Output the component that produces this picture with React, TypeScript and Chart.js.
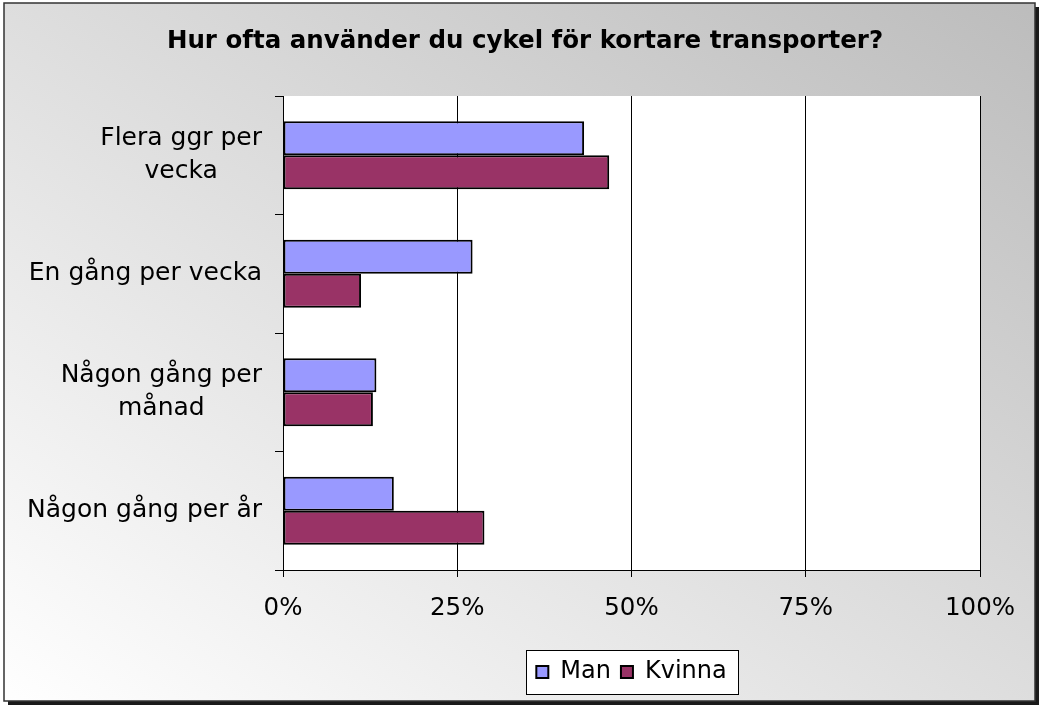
import React, { useEffect, useRef } from "react";
import { Chart, registerables } from "chart.js";

Chart.register(...registerables);

const chartTitle = "Hur ofta använder du cykel för kortare transporter?";
const categories: string[][] = [
  ["Flera ggr per", "vecka"],
  ["En gång per vecka"],
  ["Någon gång per", "månad"],
  ["Någon gång per år"],
];
const seriesNames = ["Man", "Kvinna"];
const manValues = [43.2, 27.2, 13.4, 15.9];
const kvinnaValues = [46.8, 11.2, 12.9, 28.9];
const xTickValues = [0, 25, 50, 75, 100];

const W = 1039;
const H = 706;
const FONT = '"DejaVu Sans", Verdana, sans-serif';

const decorPlugin = {
  id: "decor",
  beforeDraw(chart: any) {
    const ctx = chart.ctx;
    ctx.save();
    // shadow
    ctx.fillStyle = "#1a1a1a";
    ctx.fillRect(8, 7, 1031, 698);
    // gradient background
    const g = ctx.createLinearGradient(191.3, 835.9, 847.7, -129.9);
    g.addColorStop(0, "#ffffff");
    g.addColorStop(1, "#bcbcbc");
    ctx.fillStyle = g;
    ctx.fillRect(4, 3, 1031, 698);
    ctx.strokeStyle = "#333";
    ctx.lineWidth = 1.5;
    ctx.strokeRect(4, 3, 1031, 698);
    // plot area
    const a = chart.chartArea;
    ctx.fillStyle = "#ffffff";
    ctx.fillRect(a.left, a.top, a.right - a.left, a.bottom - a.top);
    // legend box
    const lg = chart.legend;
    if (lg && lg.legendHitBoxes && lg.legendHitBoxes.length) {
      let minL = Infinity;
      let maxR = -Infinity;
      lg.legendHitBoxes.forEach((b: any) => {
        minL = Math.min(minL, b.left);
        maxR = Math.max(maxR, b.left + b.width);
      });
      const x = Math.round(minL - 10) + 0.5;
      const y = Math.round(lg.top) + 0.5;
      const w = Math.round(maxR - minL + 22);
      const h = Math.round(lg.bottom - lg.top);
      ctx.fillStyle = "#ffffff";
      ctx.fillRect(x, y, w, h);
      ctx.strokeStyle = "#000";
      ctx.lineWidth = 1;
      ctx.strokeRect(x, y, w, h);
    }
    ctx.restore();
  },
  afterDraw(chart: any) {
    const ctx = chart.ctx;
    const ys = chart.scales.y;
    const right = chart.chartArea.left - 21;
    ctx.save();
    // title
    ctx.font = "bold 24.5px " + FONT;
    ctx.fillStyle = "#000";
    ctx.textAlign = "center";
    ctx.textBaseline = "middle";
    ctx.fillText(chartTitle, 525, 42);
    // category labels
    ctx.font = "25px " + FONT;
    const lh = 33;
    categories.forEach((lines, i) => {
      const cy = ys.getPixelForValue(i);
      const w = Math.max(...lines.map((l) => ctx.measureText(l).width));
      const cx = right - w / 2;
      lines.forEach((l, j) => {
        ctx.fillText(l, cx, cy + (j - (lines.length - 1) / 2) * lh);
      });
    });
    ctx.restore();
  },
};

export default function App() {
  const ref = useRef<HTMLCanvasElement | null>(null);
  useEffect(() => {
    if (!ref.current) return;
    const chart = new Chart(ref.current, {
      type: "bar",
      data: {
        labels: categories.map((c) => c.join(" ")),
        datasets: [
          {
            label: seriesNames[0],
            data: manValues,
            backgroundColor: "#9999FF",
            borderColor: "#000000",
            borderWidth: 2,
            borderSkipped: false,
            categoryPercentage: 0.575,
            barPercentage: 1,
          },
          {
            label: seriesNames[1],
            data: kvinnaValues,
            backgroundColor: "#993366",
            borderColor: "#000000",
            borderWidth: 2,
            borderSkipped: false,
            categoryPercentage: 0.575,
            barPercentage: 1,
          },
        ],
      },
      options: {
        indexAxis: "y",
        responsive: false,
        animation: false,
        devicePixelRatio: 1,
        layout: { padding: { left: 0, right: 59, top: 96, bottom: 12 } },
        plugins: {
          title: { display: false },
          legend: {
            display: true,
            position: "bottom",
            fullSize: false,
            labels: {
              color: "#000",
              font: { family: FONT, size: 24 },
              boxWidth: 12,
              boxHeight: 12,
              padding: 10,
            },
          },
          tooltip: { enabled: false },
        },
        scales: {
          x: {
            type: "linear",
            min: 0,
            max: 100,
            afterBuildTicks: (scale: any) => {
              scale.ticks = xTickValues.map((v) => ({ value: v }));
            },
            afterFit: (scale: any) => {
              scale.height = 80;
            },
            ticks: {
              color: "#000",
              font: { family: FONT, size: 24.5 },
              padding: 17,
              callback: (v: any) => v + "%",
            },
            grid: {
              color: "#000",
              lineWidth: 1,
              tickLength: 7,
              drawTicks: true,
            },
            border: { display: true, color: "#000", width: 1 },
          },
          y: {
            type: "category",
            offset: true,
            afterFit: (scale: any) => {
              scale.width = 283;
            },
            ticks: { display: false },
            grid: {
              offset: true,
              drawOnChartArea: false,
              drawTicks: true,
              tickLength: 8,
              color: "#000",
              lineWidth: 1,
            },
            border: { display: true, color: "#000", width: 1 },
          },
        },
      },
      plugins: [decorPlugin],
    } as any);
    return () => chart.destroy();
  }, []);
  return (
    <div style={{ position: "absolute", left: 0, top: 0, width: W, height: H }}>
      <canvas ref={ref} width={W} height={H} style={{ display: "block", width: W, height: H }} />
    </div>
  );
}
